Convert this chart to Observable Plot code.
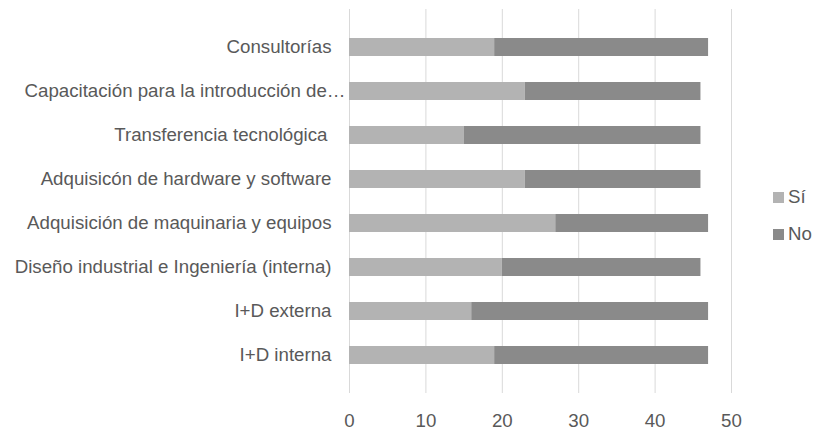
<!DOCTYPE html>
<html>
<head>
<meta charset="utf-8">
<script src="https://cdn.jsdelivr.net/npm/d3@7"></script>
<script src="https://cdn.jsdelivr.net/npm/@observablehq/plot@0.6"></script>
<style>
  html, body { margin: 0; padding: 0; background: #fff; }
  #wrap { position: relative; width: 816px; height: 430px; font-family: "Liberation Sans", Arial, sans-serif; }
  #legend { position: absolute; left: 773px; top: 0; color: #595959; font-size: 18.7px; }
  .item { position: absolute; left: 0; display: flex; align-items: center; height: 22px; white-space: nowrap; }
  .sw { width: 11px; height: 11px; margin-right: 4px; flex: none; }
</style>
</head>
<body>
<div id="wrap">
  <div id="chart"></div>
  <div id="legend"></div>
</div>
<script>
const categories = [
  "Consultorías",
  "Capacitación para la introducción de…",
  "Transferencia tecnológica",
  "Adquisicón de hardware y software",
  "Adquisición de maquinaria y equipos",
  "Diseño industrial e Ingeniería (interna)",
  "I+D externa",
  "I+D interna"
];
const series = ["Sí", "No"];
const siValues = [19, 23, 15, 23, 27, 20, 16, 19];
const noValues = [28, 23, 31, 23, 20, 26, 31, 28];
const colors = ["#b3b3b3", "#8a8a8a"];
const xTicks = [0, 10, 20, 30, 40, 50];

const data = [];
categories.forEach((c, i) => {
  data.push({category: c, series: "Sí", value: siValues[i]});
  data.push({category: c, series: "No", value: noValues[i]});
});

const truncated = categories[1];
const transfer = categories[2];
const regular = categories.filter(c => c !== truncated && c !== transfer);
const yAxisStyle = {tickSize: 0, fontSize: 18.7, fill: "#595959", label: null, textOverflow: null};

const chart = Plot.plot({
  width: 816,
  height: 430,
  marginLeft: 349,
  marginRight: 85,
  marginTop: 9,
  marginBottom: 37,
  style: {fontFamily: "'Liberation Sans', Arial, sans-serif", fontSize: "18.7px", color: "#595959", background: "#fff"},
  x: {domain: [0, 50], ticks: xTicks, label: null, grid: false},
  y: {domain: categories, label: null, padding: 0.6},
  color: {domain: series, range: colors},
  marks: [
    Plot.ruleX(xTicks, {stroke: "#d9d9d9", strokeWidth: 1}),
    Plot.barX(data, Plot.stackX({x: "value", y: "category", fill: "series", order: series, inset: 0})),
    Plot.axisX({ticks: xTicks, tickSize: 0, tickPadding: 20, fontSize: 18.7, fill: "#595959", label: null}),
    Plot.axisY({...yAxisStyle, ticks: regular, tickPadding: 18}),
    Plot.axisY({...yAxisStyle, ticks: [truncated], tickPadding: 4}),
    Plot.axisY({...yAxisStyle, ticks: [transfer], tickPadding: 22})
  ]
});
document.getElementById("chart").appendChild(chart);

const legend = document.getElementById("legend");
const legendCenters = [197, 234];
series.forEach((s, i) => {
  const item = document.createElement("div");
  item.className = "item";
  item.style.top = (legendCenters[i] - 11) + "px";
  item.innerHTML = `<span class="sw" style="background:${colors[i]}"></span><span>${s}</span>`;
  legend.appendChild(item);
});
</script>
</body>
</html>
